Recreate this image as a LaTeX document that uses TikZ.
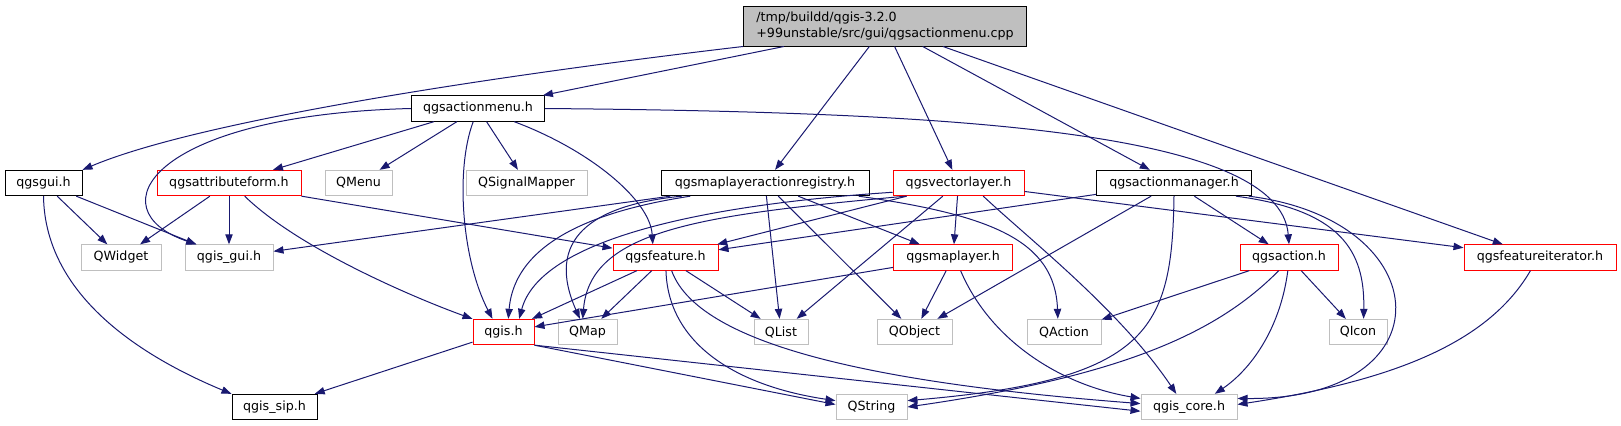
\documentclass[tikz,border=0pt]{standalone}
\usepackage{fontspec}
\setmainfont{DejaVu Sans}
\usetikzlibrary{arrows.meta}
\definecolor{edgeblue}{HTML}{191970}

\begin{document}
\begin{tikzpicture}[
    x=0.75pt, y=-0.75pt,
    hdr/.style={draw, rectangle, inner sep=0pt, minimum height=19pt, line width=0.75pt, font=\fontsize{9.5}{11.5}\selectfont},
    wd/.style={minimum width=#1*0.75pt},
    doc/.style={hdr, draw=black},
    trunc/.style={hdr, draw=red},
    ext/.style={hdr, draw=black!25},
    dep/.style={-{Triangle[length=7.5pt,width=5.5pt]}, draw=edgeblue, line width=0.75pt}
]
    \useasboundingbox (0,0) rectangle (1621,425);

    \node[doc, wd=283, minimum height=30pt, fill=black!25, align=left] (cpp) at (885,26) {/tmp/buildd/qgis-3.2.0\\+99unstable/src/gui/qgsactionmenu.cpp};
    \node[doc, wd=133] (menu) at (478,108.5) {qgsactionmenu.h};

    \node[doc, wd=77] (gui) at (43.5,183) {qgsgui.h};
    \node[trunc, wd=144] (attr) at (229,183) {qgsattributeform.h};
    \node[ext, wd=67] (qmenu) at (358.5,183) {QMenu};
    \node[ext, wd=121] (mapper) at (526.5,183) {QSignalMapper};
    \node[doc, wd=208] (reg) at (765,183) {qgsmaplayeractionregistry.h};
    \node[trunc, wd=131] (vlayer) at (958.5,183) {qgsvectorlayer.h};
    \node[doc, wd=155] (mgr) at (1174,183) {qgsactionmanager.h};

    \node[ext, wd=80] (widget) at (121,257.5) {QWidget};
    \node[ext, wd=88] (guih) at (229,257.5) {qgis\_gui.h};
    \node[trunc, wd=105] (feat) at (665.5,257.5) {qgsfeature.h};
    \node[trunc, wd=119] (mlayer) at (953,257.5) {qgsmaplayer.h};
    \node[trunc, wd=98] (action) at (1289,257.5) {qgsaction.h};
    \node[trunc, wd=152] (iter) at (1540,257.5) {qgsfeatureiterator.h};

    \node[trunc, wd=61] (qgis) at (503.5,332) {qgis.h};
    \node[ext, wd=59] (qmap) at (587.5,332) {QMap};
    \node[ext, wd=54] (qlist) at (781,332) {QList};
    \node[ext, wd=75] (qobject) at (914.5,332) {QObject};
    \node[ext, wd=74] (qaction) at (1064,332) {QAction};
    \node[ext, wd=58] (qicon) at (1358,332) {QIcon};

    \node[doc, wd=85] (sip) at (274.5,407) {qgis\_sip.h};
    \node[ext, wd=71] (qstring) at (871.5,407) {QString};
    \node[ext, wd=96] (core) at (1189,407) {qgis\_core.h};

    \draw[dep] (cpp) -- (menu);
    \draw[dep] (cpp) -- (reg);
    \draw[dep] (cpp) -- (vlayer);
    \draw[dep] (cpp) -- (mgr);
    \draw[dep] (cpp) -- (iter);
    \draw[dep] (cpp.south west) .. controls (500,75) and (200,120) .. (gui.north east);

    \draw[dep] (menu.west) .. controls (150,115) and (95,210) .. (guih.158);
    \draw[dep] (menu) -- (attr);
    \draw[dep] (menu) -- (qmenu);
    \draw[dep] (menu) -- (mapper);
    \draw[dep] (menu.-110) .. controls (455,170) and (462,260) .. (qgis.130);
    \draw[dep] (menu.-20) .. controls (590,150) and (650,200) .. (feat.134);
    \draw[dep] (menu.east) .. controls (950,112) and (1280,130) .. (action.north);

    \draw[dep] (gui) -- (widget);
    \draw[dep] (gui) -- (guih);
    \draw[dep] (gui.south) .. controls (45,300) and (150,360) .. (sip.163);

    \draw[dep] (attr) -- (widget);
    \draw[dep] (attr) -- (guih);
    \draw[dep] (attr.-40) .. controls (300,250) and (420,300) .. (qgis.north west);
    \draw[dep] (attr.south east) -- (feat.170);

    \draw[dep] (reg) -- (guih);
    \draw[dep] (reg.190) .. controls (600,210) and (515,240) .. (qgis.70);
    \draw[dep] (reg.189) .. controls (590,205) and (545,240) .. (qmap.120);
    \draw[dep] (reg) -- (qlist);
    \draw[dep] (reg) -- (qobject);
    \draw[dep] (reg) -- (mlayer);
    \draw[dep] (reg.-8) .. controls (990,215) and (1055,240) .. (qaction.115);

    \draw[dep] (vlayer.188) .. controls (700,205) and (540,240) .. (qgis.40);
    \draw[dep] (vlayer.194) .. controls (700,215) and (590,230) .. (qmap.110);
    \draw[dep] (vlayer) -- (feat);
    \draw[dep] (vlayer) -- (qlist);
    \draw[dep] (vlayer) -- (mlayer);
    \draw[dep] (vlayer.-28) .. controls (1030,240) and (1120,310) .. (core.134);
    \draw[dep] (vlayer) -- (iter);

    \draw[dep] (mgr) -- (feat);
    \draw[dep] (mgr) -- (qobject);
    \draw[dep] (mgr.south) .. controls (1172,330) and (1150,380) .. (qstring.10);
    \draw[dep] (mgr) -- (action);
    \draw[dep] (mgr.-12.5) .. controls (1340,210) and (1365,250) .. (qicon.67);
    \draw[dep] (mgr.-10.5) .. controls (1440,220) and (1450,400) .. (core.10);

    \draw[dep] (feat) -- (qgis);
    \draw[dep] (feat) -- (qmap);
    \draw[dep] (feat) -- (qlist);
    \draw[dep] (feat.-88) .. controls (668,340) and (730,385) .. (qstring.170);
    \draw[dep] (feat.-65) .. controls (700,350) and (900,385) .. (core.176);

    \draw[dep] (mlayer) -- (qgis);
    \draw[dep] (mlayer) -- (qobject);
    \draw[dep] (mlayer.-60) .. controls (990,340) and (1060,385) .. (core.170);

    \draw[dep] (action) -- (qaction);
    \draw[dep] (action.-128) .. controls (1220,330) and (1130,375) .. (qstring.0);
    \draw[dep] (action.-95) .. controls (1280,330) and (1250,370) .. (core.27);
    \draw[dep] (action) -- (qicon);

    \draw[dep] (iter.-126) .. controls (1490,340) and (1400,380) .. (core.3);

    \draw[dep] (qgis) -- (sip);
    \draw[dep] (qgis.south east) -- (qstring.176);
    \draw[dep] (qgis.south east) -- (core.185);
\end{tikzpicture}
\end{document}
